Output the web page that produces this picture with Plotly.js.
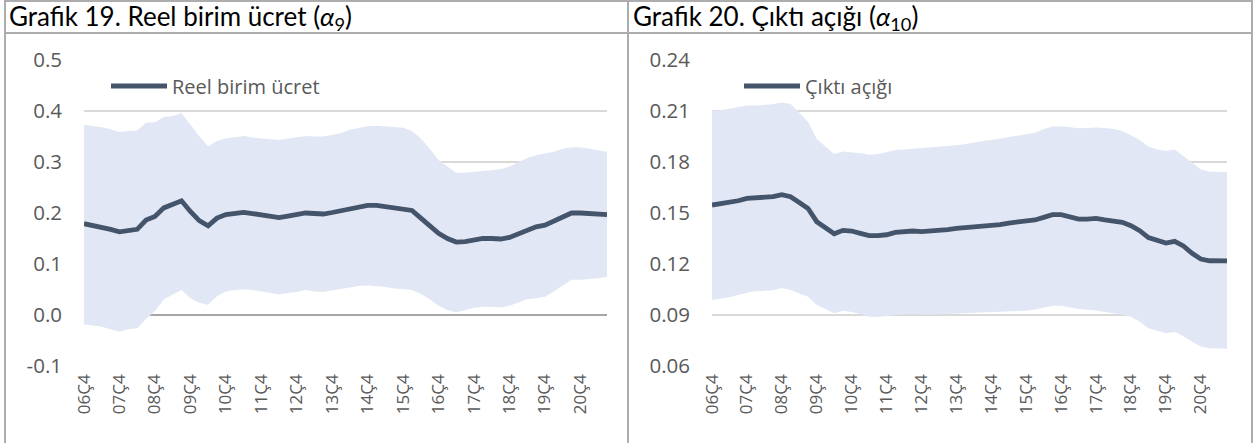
<!DOCTYPE html>
<html>
<head>
<meta charset="utf-8">
<script src="https://cdn.plot.ly/plotly-3.0.1.min.js"></script>
<style>
  html, body { margin: 0; padding: 0; background: #ffffff; }
  #chart { width: 1258px; height: 443px; }
</style>
</head>
<body>
<div id="chart"></div>
<script>
// ---------- DATA ----------
const categories = [
  '06Ç4',
  '07Ç1','07Ç2','07Ç3','07Ç4',
  '08Ç1','08Ç2','08Ç3','08Ç4',
  '09Ç1','09Ç2','09Ç3','09Ç4',
  '10Ç1','10Ç2','10Ç3','10Ç4',
  '11Ç1','11Ç2','11Ç3','11Ç4',
  '12Ç1','12Ç2','12Ç3','12Ç4',
  '13Ç1','13Ç2','13Ç3','13Ç4',
  '14Ç1','14Ç2','14Ç3','14Ç4',
  '15Ç1','15Ç2','15Ç3','15Ç4',
  '16Ç1','16Ç2','16Ç3','16Ç4',
  '17Ç1','17Ç2','17Ç3','17Ç4',
  '18Ç1','18Ç2','18Ç3','18Ç4',
  '19Ç1','19Ç2','19Ç3','19Ç4',
  '20Ç1','20Ç2','20Ç3','20Ç4',
  '21Ç1','21Ç2','21Ç3'
];
const tickLabels = ['06Ç4','07Ç4','08Ç4','09Ç4','10Ç4','11Ç4','12Ç4','13Ç4','14Ç4','15Ç4','16Ç4','17Ç4','18Ç4','19Ç4','20Ç4'];

// Grafik 19 - Reel birim ücret
const wageMid = [0.179,0.176,0.173,0.168,0.163,0.166,0.168,0.186,0.193,0.210,
  0.216,0.224,0.203,0.185,0.175,0.190,0.197,0.200,0.201,0.199,
  0.196,0.193,0.191,0.194,0.197,0.200,0.199,0.198,0.201,0.204,
  0.208,0.212,0.215,0.215,0.212,0.210,0.208,0.205,0.190,0.175,
  0.160,0.150,0.143,0.144,0.147,0.150,0.150,0.149,0.152,0.159,
  0.168,0.173,0.176,0.184,0.193,0.200,0.200,0.199,0.199,0.197];
const wageUpper = [0.373,0.371,0.368,0.364,0.359,0.361,0.362,0.377,0.378,0.388,
  0.390,0.396,0.373,0.351,0.331,0.341,0.346,0.349,0.351,0.348,
  0.346,0.344,0.343,0.346,0.348,0.351,0.350,0.350,0.353,0.357,
  0.363,0.367,0.370,0.371,0.370,0.368,0.367,0.361,0.346,0.326,
  0.304,0.291,0.279,0.279,0.281,0.283,0.285,0.286,0.291,0.299,
  0.308,0.313,0.316,0.320,0.326,0.329,0.329,0.326,0.323,0.320];
const wageLower = [-0.018,-0.020,-0.023,-0.028,-0.033,-0.028,-0.026,-0.008,0.008,0.031,
  0.040,0.049,0.033,0.024,0.020,0.037,0.046,0.049,0.050,0.049,
  0.046,0.043,0.040,0.043,0.045,0.049,0.046,0.045,0.048,0.051,
  0.055,0.057,0.058,0.057,0.055,0.052,0.051,0.049,0.041,0.031,
  0.018,0.010,0.005,0.010,0.014,0.016,0.016,0.015,0.018,0.024,
  0.031,0.033,0.036,0.046,0.058,0.069,0.069,0.070,0.072,0.075];

// Grafik 20 - Çıktı açığı
const gapMid = [0.1547,0.1553,0.1559,0.1572,0.1586,0.1590,0.1592,0.1596,0.1608,0.1596,
  0.1562,0.1527,0.1449,0.1413,0.1378,0.1398,0.1394,0.1380,0.1367,0.1367,
  0.1372,0.1386,0.1390,0.1394,0.1390,0.1392,0.1396,0.1402,0.1410,0.1413,
  0.1419,0.1419,0.1425,0.1431,0.1441,0.1445,0.1449,0.1459,0.1474,0.1490,
  0.1490,0.1478,0.1464,0.1464,0.1468,0.1459,0.1455,0.1445,0.1425,0.1396,
  0.1355,0.1337,0.1323,0.1333,0.1306,0.1263,0.1229,0.1219,0.1219,0.1218];
const gapUpper = [0.2103,0.2105,0.2113,0.2125,0.2133,0.2133,0.2135,0.2139,0.2150,0.2141,
  0.2090,0.2037,0.1935,0.1890,0.1847,0.1862,0.1858,0.1851,0.1843,0.1847,
  0.1858,0.1870,0.1874,0.1878,0.1878,0.1882,0.1886,0.1890,0.1898,0.1905,
  0.1916,0.1923,0.1929,0.1937,0.1947,0.1955,0.1962,0.1972,0.1992,0.2009,
  0.2011,0.2005,0.1998,0.2000,0.2003,0.2000,0.1994,0.1982,0.1958,0.1929,
  0.1890,0.1874,0.1864,0.1874,0.1835,0.1792,0.1757,0.1743,0.1741,0.1741];
const gapLower = [0.0988,0.0996,0.1004,0.1018,0.1031,0.1039,0.1041,0.1045,0.1059,0.1047,
  0.1027,0.1008,0.0959,0.0933,0.0910,0.0925,0.0918,0.0906,0.0890,0.0888,
  0.0894,0.0902,0.0904,0.0904,0.0902,0.0902,0.0904,0.0906,0.0908,0.0910,
  0.0913,0.0916,0.0918,0.0920,0.0922,0.0924,0.0925,0.0933,0.0945,0.0955,
  0.0955,0.0945,0.0935,0.0931,0.0927,0.0918,0.0912,0.0902,0.0890,0.0861,
  0.0822,0.0806,0.0792,0.0800,0.0777,0.0743,0.0714,0.0704,0.0702,0.0702];

const seriesNames = ['Reel birim ücret', 'Çıktı açığı'];
const panelTitles = [
  'Grafik 19. Reel birim ücret (<i>α</i><sub>9</sub>)',
  'Grafik 20. Çıktı açığı (<i>α</i><sub>10</sub>)'
];

// ---------- STYLE ----------
const W = 1258, H = 443;
const px = v => v / W;
const py = v => 1 - v / H;
const LINE = '#44546A';
const BAND = '#E1E7F4';
const GRID = '#D9D9D9';
const TXT = '#595959';
const BORDER = '#ADADAD';
const FONT = 'Open Sans, sans-serif';
const TITLE_FONT = 'Lato, sans-serif';

function band(x, lo, hi, xa, ya) {
  return [
    { x: x, y: lo, xaxis: xa, yaxis: ya, type: 'scatter', mode: 'lines',
      line: { width: 0, color: BAND }, showlegend: false, hoverinfo: 'skip' },
    { x: x, y: hi, xaxis: xa, yaxis: ya, type: 'scatter', mode: 'lines',
      line: { width: 0, color: BAND }, fill: 'tonexty', fillcolor: BAND,
      showlegend: false, hoverinfo: 'skip' }
  ];
}

const traces = [
  ...band(categories, wageLower, wageUpper, 'x', 'y'),
  { x: categories, y: wageMid, xaxis: 'x', yaxis: 'y', type: 'scatter', mode: 'lines',
    name: seriesNames[0], legend: 'legend',
    line: { color: LINE, width: 4.8 } },
  ...band(categories, gapLower, gapUpper, 'x2', 'y2'),
  { x: categories, y: gapMid, xaxis: 'x2', yaxis: 'y2', type: 'scatter', mode: 'lines',
    name: seriesNames[1], legend: 'legend2',
    line: { color: LINE, width: 4.8 } }
];

const xBase = {
  type: 'category', showgrid: false, zeroline: false, showline: false,
  tickmode: 'array', tickvals: tickLabels, ticktext: tickLabels,
  tickangle: -90, ticks: '', ticklabelstandoff: 4,
  tickfont: { family: FONT, size: 17, color: TXT }, fixedrange: true
};
const yBase = {
  showgrid: true, gridcolor: GRID, gridwidth: 1.3, showline: false, ticks: '',
  ticklabelstandoff: 21, tickfont: { family: FONT, size: 20.5, color: TXT }, fixedrange: true
};

const plotTop = 60, plotBottom = 366;

const borderShapes = [
  { type: 'line', xref: 'paper', yref: 'paper', x0: px(5), x1: px(1252), y0: py(1), y1: py(1), line: { color: BORDER, width: 2 } },
  { type: 'line', xref: 'paper', yref: 'paper', x0: px(5), x1: px(1252), y0: py(33), y1: py(33), line: { color: BORDER, width: 2 } },
  { type: 'line', xref: 'paper', yref: 'paper', x0: px(5), x1: px(5), y0: py(0), y1: py(443), line: { color: BORDER, width: 2 } },
  { type: 'line', xref: 'paper', yref: 'paper', x0: px(628), x1: px(628), y0: py(0), y1: py(443), line: { color: BORDER, width: 2 } },
  { type: 'line', xref: 'paper', yref: 'paper', x0: px(1252), x1: px(1252), y0: py(0), y1: py(443), line: { color: BORDER, width: 2 } }
];

const layout = {
  width: W, height: H,
  margin: { l: 0, r: 0, t: 0, b: 0 },
  paper_bgcolor: '#ffffff', plot_bgcolor: '#ffffff',
  font: { family: FONT, color: TXT },
  xaxis: Object.assign({}, xBase, { domain: [px(84), px(607)], anchor: 'y' }),
  yaxis: Object.assign({}, yBase, {
    domain: [py(plotBottom), py(plotTop)], anchor: 'x',
    range: [-0.1, 0.5], tickvals: [-0.1, 0, 0.1, 0.2, 0.3, 0.4, 0.5],
    ticktext: ['-0.1', '0.0', '0.1', '0.2', '0.3', '0.4', '0.5'],
    zeroline: true, zerolinecolor: '#A6A6A6', zerolinewidth: 1.5
  }),
  xaxis2: Object.assign({}, xBase, { domain: [px(712), px(1227)], anchor: 'y2' }),
  yaxis2: Object.assign({}, yBase, {
    domain: [py(plotBottom), py(plotTop)], anchor: 'x2',
    range: [0.06, 0.24], tickvals: [0.06, 0.09, 0.12, 0.15, 0.18, 0.21, 0.24],
    ticktext: ['0.06', '0.09', '0.12', '0.15', '0.18', '0.21', '0.24'],
    zeroline: false
  }),
  legend: {
    x: px(106), y: py(86), xanchor: 'left', yanchor: 'middle',
    bgcolor: 'rgba(0,0,0,0)', font: { family: FONT, size: 20, color: TXT },
    itemwidth: 56, tracegroupgap: 0
  },
  legend2: {
    x: px(739), y: py(86), xanchor: 'left', yanchor: 'middle',
    bgcolor: 'rgba(0,0,0,0)', font: { family: FONT, size: 20, color: TXT },
    itemwidth: 56, tracegroupgap: 0
  },
  annotations: [
    { xref: 'paper', yref: 'paper', x: px(7), y: py(18), xanchor: 'left', yanchor: 'middle',
      text: panelTitles[0], showarrow: false, font: { family: TITLE_FONT, size: 26, color: '#000000' } },
    { xref: 'paper', yref: 'paper', x: px(631), y: py(18), xanchor: 'left', yanchor: 'middle',
      text: panelTitles[1], showarrow: false, font: { family: TITLE_FONT, size: 26, color: '#000000' } }
  ],
  shapes: borderShapes,
  showlegend: true
};

Plotly.newPlot('chart', traces, layout, { displayModeBar: false, staticPlot: true });
</script>
</body>
</html>
